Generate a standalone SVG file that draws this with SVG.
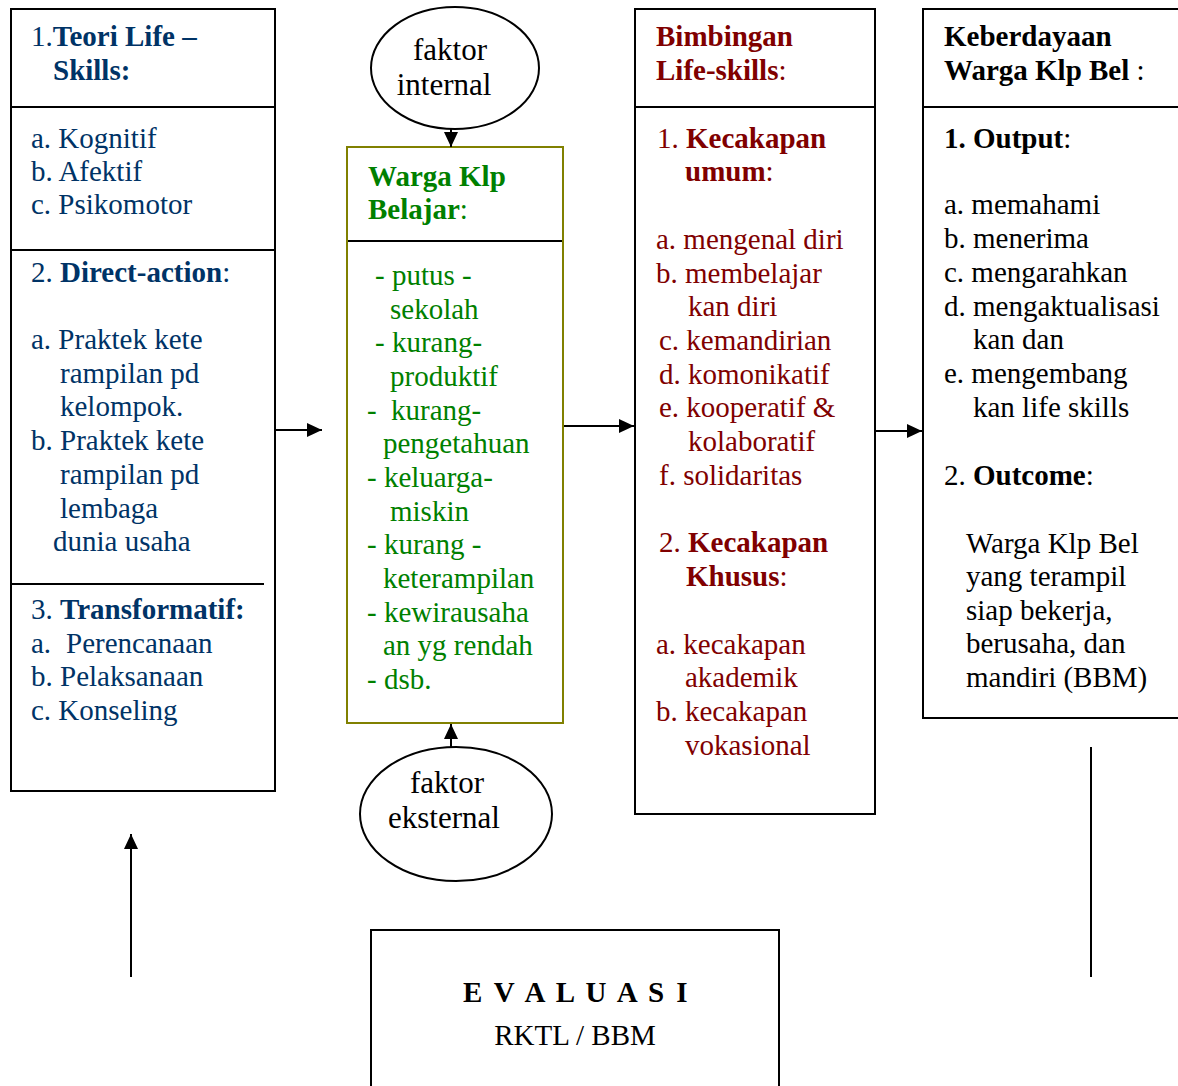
<svg xmlns="http://www.w3.org/2000/svg" width="1178" height="1086" viewBox="0 0 1178 1086">
  <defs>
    <marker id="arrow" markerWidth="15" markerHeight="14" refX="15" refY="7" orient="auto" markerUnits="userSpaceOnUse">
      <path d="M0,0 L15,7 L0,14 z" fill="#000"/>
    </marker>
    <style>
      text { font-family: "Liberation Serif", "Times New Roman", serif; font-size: 29px; }
      .b { font-weight: bold; }
      .nv { fill: #003366; }
      .gr { fill: #008000; }
      .rd { fill: #800000; }
      .bk { fill: #000; }
      .box { fill: #fff; stroke: #000; stroke-width: 2; }
      .rule { stroke: #000; stroke-width: 2; }
      .oval { fill: #fff; stroke: #000; stroke-width: 2; }
      .oval-text { font-size: 31px; fill: #000; text-anchor: middle; }
      .conn { stroke: #000; stroke-width: 2; fill: none; }
    </style>
  </defs>
  <rect width="1178" height="1086" fill="#fff"/>

  <!-- Life-skills theory column -->
  <g id="teori-life-skills">
    <rect class="box" x="11" y="9" width="264" height="782"/>
    <line class="rule" x1="11" y1="107" x2="275" y2="107"/>
    <line class="rule" x1="11" y1="250" x2="275" y2="250"/>
    <line class="rule" x1="11" y1="584" x2="264" y2="584"/>
    <text class="nv" x="31" y="46">1.<tspan class="b">Teori Life –</tspan></text>
    <text class="nv b" x="53" y="80">Skills:</text>
    <text class="nv" x="31" y="148">a. Kognitif</text>
    <text class="nv" x="31" y="181">b. Afektif</text>
    <text class="nv" x="31" y="214">c. Psikomotor</text>
    <text class="nv" x="31" y="282">2. <tspan class="b">Direct-action</tspan>:</text>
    <text class="nv" x="31" y="349">a. Praktek kete</text>
    <text class="nv" x="60" y="383">rampilan pd</text>
    <text class="nv" x="60" y="416">kelompok.</text>
    <text class="nv" x="31" y="450">b. Praktek kete</text>
    <text class="nv" x="60" y="484">rampilan pd</text>
    <text class="nv" x="60" y="518">lembaga</text>
    <text class="nv" x="53" y="551">dunia usaha</text>
    <text class="nv" x="31" y="619">3. <tspan class="b">Transformatif:</tspan></text>
    <text class="nv" x="31" y="653">a.<tspan x="66">Perencanaan</tspan></text>
    <text class="nv" x="31" y="686">b. Pelaksanaan</text>
    <text class="nv" x="31" y="720">c. Konseling</text>
  </g>

  <!-- Internal factor -->
  <g id="faktor-internal">
    <ellipse class="oval" cx="455" cy="68" rx="84" ry="61"/>
    <text class="oval-text" x="450" y="60">faktor</text>
    <text class="oval-text" x="444" y="95">internal</text>
  </g>

  <!-- Learning group members -->
  <g id="warga-klp-belajar">
    <rect x="347" y="147" width="216" height="576" fill="#fff" stroke="#808000" stroke-width="2"/>
    <line class="rule" x1="348" y1="241" x2="562" y2="241"/>
    <text class="gr b" x="368" y="186">Warga Klp</text>
    <text class="gr" x="368" y="219"><tspan class="b">Belajar</tspan>:</text>
    <text class="gr" x="375" y="285">- putus -</text>
    <text class="gr" x="390" y="319">sekolah</text>
    <text class="gr" x="375" y="352">- kurang-</text>
    <text class="gr" x="390" y="386">produktif</text>
    <text class="gr" x="367" y="420">-<tspan x="391">kurang-</tspan></text>
    <text class="gr" x="383" y="453">pengetahuan</text>
    <text class="gr" x="367" y="487">- keluarga-</text>
    <text class="gr" x="390" y="521">miskin</text>
    <text class="gr" x="367" y="554">- kurang -</text>
    <text class="gr" x="383" y="588">keterampilan</text>
    <text class="gr" x="367" y="622">- kewirausaha</text>
    <text class="gr" x="383" y="655">an yg rendah</text>
    <text class="gr" x="367" y="689">- dsb.</text>
  </g>

  <!-- External factor -->
  <g id="faktor-eksternal">
    <ellipse class="oval" cx="456" cy="814" rx="96" ry="67"/>
    <text class="oval-text" x="447" y="793">faktor</text>
    <text class="oval-text" x="444" y="828">eksternal</text>
  </g>

  <!-- Life-skills guidance -->
  <g id="bimbingan-life-skills">
    <rect class="box" x="635" y="9" width="240" height="805"/>
    <line class="rule" x1="635" y1="107" x2="875" y2="107"/>
    <text class="rd b" x="656" y="46">Bimbingan</text>
    <text class="rd" x="656" y="80"><tspan class="b">Life-skills</tspan>:</text>
    <text class="rd" x="657" y="148">1. <tspan class="b">Kecakapan</tspan></text>
    <text class="rd" x="685" y="181"><tspan class="b">umum</tspan>:</text>
    <text class="rd" x="656" y="249">a. mengenal diri</text>
    <text class="rd" x="656" y="283">b. membelajar</text>
    <text class="rd" x="688" y="316">kan diri</text>
    <text class="rd" x="659" y="350">c. kemandirian</text>
    <text class="rd" x="659" y="384">d. komonikatif</text>
    <text class="rd" x="659" y="417">e. kooperatif &amp;</text>
    <text class="rd" x="688" y="451">kolaboratif</text>
    <text class="rd" x="659" y="485">f. solidaritas</text>
    <text class="rd" x="659" y="552">2. <tspan class="b">Kecakapan</tspan></text>
    <text class="rd" x="686" y="586"><tspan class="b">Khusus</tspan>:</text>
    <text class="rd" x="656" y="654">a. kecakapan</text>
    <text class="rd" x="685" y="687">akademik</text>
    <text class="rd" x="656" y="721">b. kecakapan</text>
    <text class="rd" x="685" y="755">vokasional</text>
  </g>

  <!-- Empowerment of learning group members -->
  <g id="keberdayaan">
    <rect class="box" x="923" y="9" width="270" height="709"/>
    <line class="rule" x1="923" y1="107" x2="1178" y2="107"/>
    <text class="bk b" x="944" y="46">Keberdayaan</text>
    <text class="bk" x="944" y="80"><tspan class="b">Warga Klp Bel</tspan> :</text>
    <text class="bk" x="944" y="148"><tspan class="b">1. Output</tspan>:</text>
    <text class="bk" x="944" y="214">a. memahami</text>
    <text class="bk" x="944" y="248">b. menerima</text>
    <text class="bk" x="944" y="282">c. mengarahkan</text>
    <text class="bk" x="944" y="316">d. mengaktualisasi</text>
    <text class="bk" x="973" y="349">kan dan</text>
    <text class="bk" x="944" y="383">e. mengembang</text>
    <text class="bk" x="973" y="417">kan life skills</text>
    <text class="bk" x="944" y="485">2. <tspan class="b">Outcome</tspan>:</text>
    <text class="bk" x="966" y="553">Warga Klp Bel</text>
    <text class="bk" x="966" y="586">yang terampil</text>
    <text class="bk" x="966" y="620">siap bekerja,</text>
    <text class="bk" x="966" y="653">berusaha, dan</text>
    <text class="bk" x="966" y="687">mandiri (BBM)</text>
  </g>

  <!-- Evaluation -->
  <g id="evaluasi">
    <rect class="box" x="371" y="930" width="408" height="170"/>
    <text class="bk b" x="463" y="1002" letter-spacing="2.35">E V A L U A S I</text>
    <text class="bk" x="575" y="1045" text-anchor="middle">RKTL / BBM</text>
  </g>

  <!-- Connectors -->
  <g id="connectors">
    <line class="conn" x1="276" y1="430" x2="322" y2="430" marker-end="url(#arrow)"/>
    <line class="conn" x1="451" y1="129" x2="451" y2="147" marker-end="url(#arrow)"/>
    <line class="conn" x1="451" y1="747" x2="451" y2="724" marker-end="url(#arrow)"/>
    <line class="conn" x1="564" y1="426" x2="634" y2="426" marker-end="url(#arrow)"/>
    <line class="conn" x1="876" y1="431" x2="922" y2="431" marker-end="url(#arrow)"/>
    <line class="conn" x1="131" y1="977" x2="131" y2="834" stroke-width="3" marker-end="url(#arrow)"/>
    <line class="conn" x1="1091" y1="747" x2="1091" y2="977" stroke-width="3"/>
  </g>
</svg>
